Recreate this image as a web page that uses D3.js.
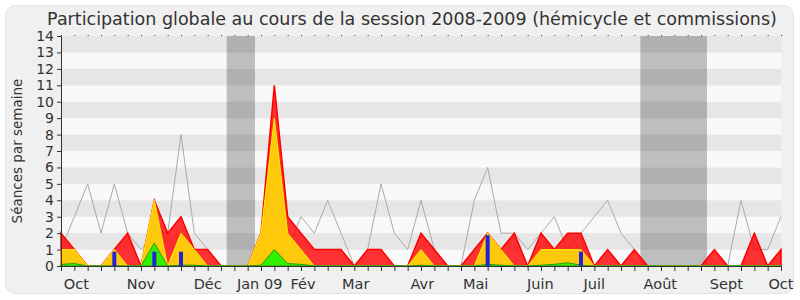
<!DOCTYPE html>
<html>
<head>
<meta charset="utf-8">
<script src="https://cdn.jsdelivr.net/npm/d3@7"></script>
<style>
  body { margin: 0; background: #fff; }
  svg text { font-family: "DejaVu Sans", Verdana, sans-serif; fill: #333; }
</style>
</head>
<body>
<div id="chart"></div>
<script>
// weekly values, session 2008-2009 (one entry per week)
var weeks = d3.range(55);
var totalSeances = [2, 1, 0, 0, 1, 2, 0, 4, 2, 3, 1, 1, 0, 0, 0, 2, 11, 3, 2, 1, 1, 1, 0, 1, 1, 0, 0, 2, 1, 0,
  0, 1, 2, 1, 2, 0, 2, 1, 2, 2, 0, 1, 0, 1, 0, 0, 0, 0, 0, 1, 0, 0, 2, 0, 1];
var hemicycle = [1, 1, 0, 0, 1, 0, 0, 4, 0, 2, 1, 0, 0, 0, 0, 2, 9, 2, 1, 0, 0, 0, 0, 0, 0, 0, 0, 1, 0, 0,
  0, 0, 2, 1, 0, 0, 1, 1, 1, 1, 0, 0, 0, 0, 0, 0, 0, 0, 0, 0, 0, 0, 0, 0, 0];
var interventions = [0.1, 0.15, 0, 0, 0, 0, 0, 1.4, 0, 0.05, 0.05, 0, 0, 0, 0, 0.05, 1, 0.15, 0.1, 0, 0, 0, 0, 0, 0, 0, 0, 0.05, 0, 0,
  0, 0, 0.1, 0.05, 0, 0, 0.05, 0.1, 0.2, 0.05, 0, 0, 0, 0, 0, 0, 0, 0, 0, 0, 0, 0, 0, 0, 0];
var mediane = [1, 3, 5, 2, 5, 2, 1, 2, 2, 8, 2, 1, 0, 0, 0, 0, 2, 1, 3, 2, 4, 2, 0, 1, 5, 2, 1, 4, 1, 0,
  0, 4, 6, 2, 2, 1, 2, 3, 1, 2, 3, 4, 2, 1, 0, 0, 0, 0, 0, 0, 0, 4, 1, 1, 3];
var questionWeeks = [4, 7, 9, 32, 39];
var questionValues = [0.87, 0.87, 0.87, 1.87, 0.87];
var vacances = [[12.43, 14.55], [43.45, 48.45]];
var monthLabels = ["Oct", "Nov", "Déc", "Jan 09", "Fév", "Mar", "Avr", "Mai", "Juin", "Juil", "Août", "Sept", "Oct"];
var monthWeeks = [1.15, 6, 11, 14.9, 18.15, 22.1, 27.1, 31.1, 35.95, 40, 44.95, 49.9, 54];
var yTicks = d3.range(15);

var W = 800, H = 300;
var margin = { top: 36, right: 19, bottom: 34, left: 61 };
var width = W - margin.left - margin.right,
  height = H - margin.top - margin.bottom;

var svg = d3.select("#chart").append("svg")
  .attr("width", W)
  .attr("height", H);

// rounded frame
svg.append("rect")
  .attr("x", 5.5).attr("y", 5.5)
  .attr("width", W - 12).attr("height", H - 12)
  .attr("rx", 10).attr("ry", 10)
  .style("fill", "#f0f0f0")
  .style("stroke", "#e2e2e2");

svg.append("text")
  .attr("x", 412)
  .attr("y", 25)
  .style("text-anchor", "middle")
  .style("font-size", "17.5px")
  .text("Participation globale au cours de la session 2008-2009 (hémicycle et commissions)");

svg.append("text")
  .attr("transform", "translate(22," + (margin.top + height / 2) + ") rotate(-90)")
  .style("text-anchor", "middle")
  .style("font-size", "13.5px")
  .text("Séances par semaine");

var g = svg.append("g")
  .attr("transform", "translate(" + margin.left + "," + margin.top + ")");

var x = d3.scaleLinear().domain([0, 54]).range([0, width]);
var y = d3.scaleLinear().domain([0, 14]).range([height, 0]);

// horizontal stripes
g.selectAll(".stripe")
  .data(yTicks.slice(0, 14))
  .enter().append("rect")
  .attr("class", "stripe")
  .attr("x", 0)
  .attr("width", width)
  .attr("y", function (d) { return y(d + 1); })
  .attr("height", function (d) { return y(d) - y(d + 1); })
  .style("fill", function (d) { return d % 2 == 1 ? "#e6e6e6" : "#f9f9f9"; });

// holidays
g.selectAll(".vac")
  .data(vacances)
  .enter().append("rect")
  .attr("class", "vac")
  .attr("x", function (d) { return x(d[0]); })
  .attr("width", function (d) { return x(d[1]) - x(d[0]); })
  .attr("y", 0)
  .attr("height", height)
  .style("fill", "#000")
  .style("fill-opacity", 0.235);

// median line
var line = d3.line()
  .x(function (d, i) { return x(i); })
  .y(function (d) { return y(d); });

g.append("path")
  .attr("d", line(mediane))
  .style("fill", "none")
  .style("stroke", "#aaa")
  .style("stroke-width", 1);

function area(values) {
  return d3.area()
    .x(function (d, i) { return x(i); })
    .y0(y(0))
    .y1(function (d) { return y(d); })(values);
}

g.append("path")
  .attr("d", area(totalSeances))
  .style("fill", "rgba(255,0,0,0.8)")
  .style("stroke", "#f00")
  .style("stroke-width", 1.5);

g.append("path")
  .attr("d", area(hemicycle))
  .style("fill", "#ffd20a")
  .style("fill-opacity", 0.95)
  .style("stroke", "#ffee00")
  .style("stroke-width", 1);

g.append("path")
  .attr("d", area(interventions))
  .style("fill", "#33f000")
  .style("stroke", "#2a9a10")
  .style("stroke-width", 1);

// questions
g.selectAll(".q")
  .data(questionWeeks)
  .enter().append("rect")
  .attr("class", "q")
  .attr("x", function (d) { return x(d) - 2; })
  .attr("width", 4)
  .attr("y", function (d, i) { return y(questionValues[i]); })
  .attr("height", function (d, i) { return y(0) - y(questionValues[i]); })
  .style("fill", "#2222dd");

// axes
var yAxis = g.append("g")
  .call(d3.axisLeft(y).tickValues(yTicks).tickSize(4).tickPadding(3).tickFormat(d3.format("d")));
yAxis.selectAll("text").style("font-size", "14px");

var xAxis = g.append("g")
  .attr("transform", "translate(0," + height + ")")
  .call(d3.axisBottom(x).tickValues(weeks).tickSize(5).tickFormat(""));
xAxis.select(".domain").remove();

g.append("line")
  .attr("x1", 0).attr("x2", width)
  .attr("y1", height + 0.5).attr("y2", height + 0.5)
  .style("stroke", "#333");

// top dots
g.append("g")
  .call(d3.axisTop(x).tickValues(weeks).tickSize(1).tickFormat(""))
  .select(".domain").remove();

g.selectAll(".month")
  .data(monthLabels)
  .enter().append("text")
  .attr("class", "month")
  .attr("x", function (d, i) { return x(monthWeeks[i]); })
  .attr("y", height + 23)
  .style("text-anchor", "middle")
  .style("font-size", "14.5px")
  .text(function (d) { return d; });

g.selectAll(".tick line").style("stroke", "#333");
g.selectAll(".domain").style("stroke", "#333");
</script>
</body>
</html>
